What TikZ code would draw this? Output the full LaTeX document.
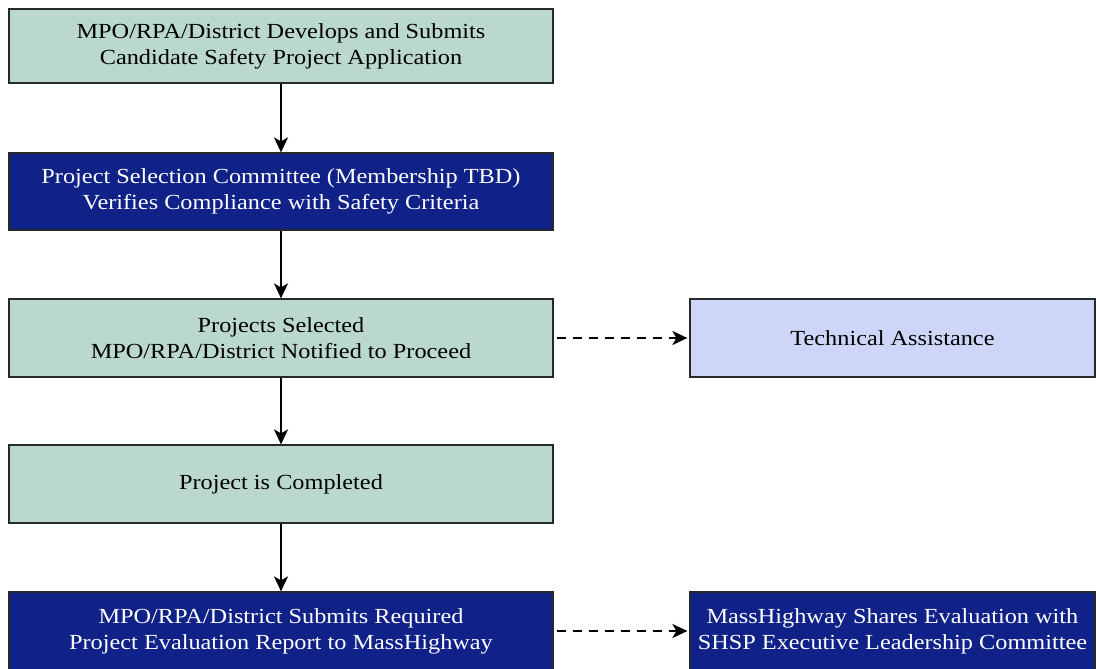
\documentclass[tikz,border=0pt]{standalone}
\usepackage{fontspec}
\setmainfont[FakeStretch=1.13]{Liberation Serif}
\usetikzlibrary{arrows.meta}
\definecolor{boxgreen}{RGB}{186,216,204}
\definecolor{boxdark}{RGB}{16,33,136}
\definecolor{boxlight}{RGB}{206,214,248}
\definecolor{edge}{RGB}{40,40,40}
\begin{document}
\begin{tikzpicture}[x=1pt,y=-1pt,
  base/.style={draw=edge,line width=1.2pt,inner sep=0pt,align=center,
    font=\fontsize{21.5}{26}\selectfont},
  greenbox/.style={base,fill=boxgreen,text=black},
  darkbox/.style={base,fill=boxdark,text=white},
  lightbox/.style={base,fill=boxlight,text=black},
  flow/.style={line width=2pt,-{Stealth[length=15pt,width=14pt,inset=4pt]}},
  side/.style={line width=2pt,dash pattern=on 9pt off 7pt,-{Stealth[length=15pt,width=14pt,inset=4pt]}}]
\useasboundingbox (0,0) rectangle (1096,669);
\begin{scope}
\clip (0,0) rectangle (1096,669);
\node[greenbox,minimum width=544pt,minimum height=74pt] (b1) at (281,46)
  {MPO/RPA/District Develops and Submits\\Candidate Safety Project Application};
\node[darkbox,minimum width=544pt,minimum height=77pt] (b2) at (281,191.5)
  {Project Selection Committee (Membership TBD)\\Verifies Compliance with Safety Criteria};
\node[greenbox,minimum width=544pt,minimum height=78pt] (b3) at (281,338)
  {Projects Selected\\MPO/RPA/District Notified to Proceed};
\node[greenbox,minimum width=544pt,minimum height=78pt] (b4) at (281,484)
  {Project is Completed};
\node[darkbox,minimum width=544pt,minimum height=78pt] (b5) at (281,631)
  {MPO/RPA/District Submits Required\\Project Evaluation Report to MassHighway};
\node[lightbox,minimum width=405pt,minimum height=78pt] (t1) at (892.5,338)
  {Technical Assistance};
\node[darkbox,minimum width=405pt,minimum height=78pt] (t2) at (892.5,631)
  {MassHighway Shares Evaluation with\\SHSP Executive Leadership Committee};
\draw[flow] (b1.south) -- (b2.north);
\draw[flow] (b2.south) -- (b3.north);
\draw[flow] (b3.south) -- (b4.north);
\draw[flow] (b4.south) -- (b5.north);
\draw[side] ([xshift=3pt]b3.east) -- ([xshift=-2pt]t1.west);
\draw[side] ([xshift=3pt]b5.east) -- ([xshift=-2pt]t2.west);
\end{scope}
\end{tikzpicture}
\end{document}
